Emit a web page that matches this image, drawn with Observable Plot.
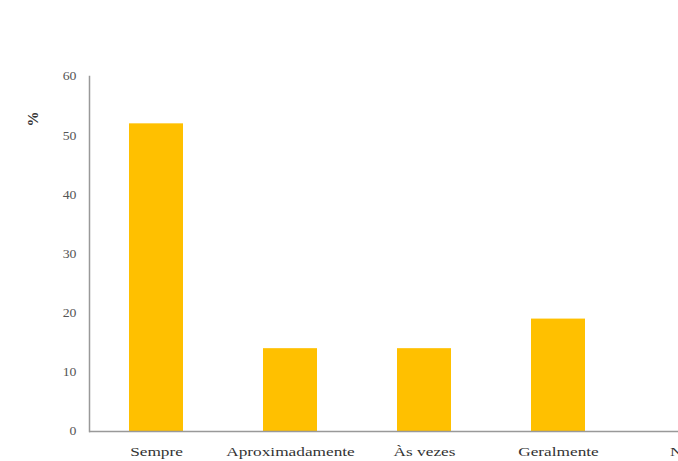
<!DOCTYPE html>
<html>
<head>
<meta charset="utf-8">
<script src="https://cdn.jsdelivr.net/npm/d3@7"></script>
<script src="https://cdn.jsdelivr.net/npm/@observablehq/plot@0.6"></script>
<style>
  html, body { margin: 0; padding: 0; background: #fff; overflow: hidden; width: 678px; height: 461px; }
  #chart svg { display: block; max-width: none !important; font-family: "Liberation Serif", "DejaVu Serif", serif !important; }
  #chart svg text { font-family: "Liberation Serif", "DejaVu Serif", serif; }
</style>
</head>
<body>
<div id="chart"></div>
<script>
const categories = ["Sempre", "Aproximadamente", "Às vezes", "Geralmente", "Nunca"];
const values = [52, 14, 14, 19, 0];
const yTicks = [0, 10, 20, 30, 40, 50, 60];
const yLabel = "%";

const data = categories.map((c, i) => ({category: c, value: values[i]}));

const chart = Plot.plot({
  width: 770,
  height: 461,
  marginTop: 76,
  marginBottom: 30,
  marginLeft: 89,
  marginRight: 11,
  style: {fontFamily: "Liberation Serif, serif", fontSize: "12px", color: "#444", background: "#fff", maxWidth: "none"},
  x: {domain: categories, padding: 0.6, paddingOuter: 0.3, label: null},
  y: {domain: [0, 60], label: null},
  marks: [
    Plot.barY(data, {x: "category", y: "value", fill: "#FFC000"}),
    Plot.axisY({ticks: yTicks, tickSize: 0, tickPadding: 13, label: null, fill: "#555", fontSize: 12}),
    Plot.axisX({tickSize: 0, tickPadding: 16, label: null, fill: "#333", fontSize: 12}),
    Plot.frame({anchor: "left", stroke: "#999", strokeWidth: 1.5}),
    Plot.ruleY([0], {stroke: "#999", strokeWidth: 1.5}),
    Plot.text([yLabel], {frameAnchor: "top-left", dx: -62, dy: 50, rotate: -90, fontSize: 15, fill: "#333", fontWeight: "bold"})
  ]
});
document.getElementById("chart").appendChild(chart);

// The reference's labels are horizontally stretched; widen them in place.
function stretch(selector, s) {
  d3.select(chart).selectAll(selector).each(function () {
    const el = d3.select(this);
    const t = el.attr("transform") || "";
    const x = +(el.attr("x") || 0);
    el.attr("transform", `${t} translate(${x},0) scale(${s},1) translate(${-x},0)`);
  });
}
stretch("g[aria-label='x-axis tick label'] text", 1.44);
stretch("g[aria-label='y-axis tick label'] text", 1.15);
</script>
</body>
</html>
